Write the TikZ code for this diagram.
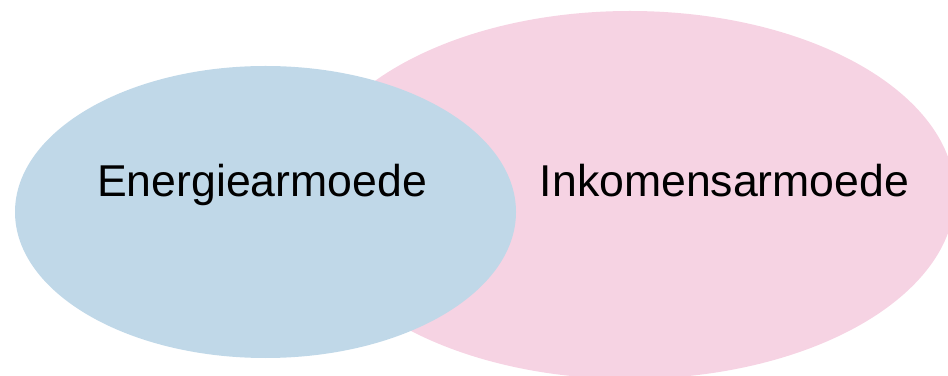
\documentclass[tikz,border=0pt]{standalone}
\usepackage{fontspec}
\setmainfont{Liberation Sans}
\usetikzlibrary{shapes.geometric}
\definecolor{setblue}{RGB}{192,216,232}
\definecolor{setpink}{RGB}{246,211,227}
\begin{document}
\begin{tikzpicture}[x=1pt,y=1pt,
  setshape/.style={ellipse, draw=none, inner sep=0pt, outer sep=0pt},
  setlabel/.style={anchor=base, inner sep=0pt, font=\fontsize{44.6}{50}\selectfont, text=black}]
\useasboundingbox (0,0) rectangle (948,375);
\clip (0,0) rectangle (948,375);
\node[setshape, fill=setpink, minimum width=650pt, minimum height=368pt] (inkomen) at (630,180) {};
\node[setshape, fill=setblue, minimum width=501pt, minimum height=292pt] (energie) at (265.5,163) {};
\node[setlabel] (energielabel) at (262,178) {Energiearmoede};
\node[setlabel] (inkomenlabel) at (724.5,178) {Inkomensarmoede};
\end{tikzpicture}
\end{document}
